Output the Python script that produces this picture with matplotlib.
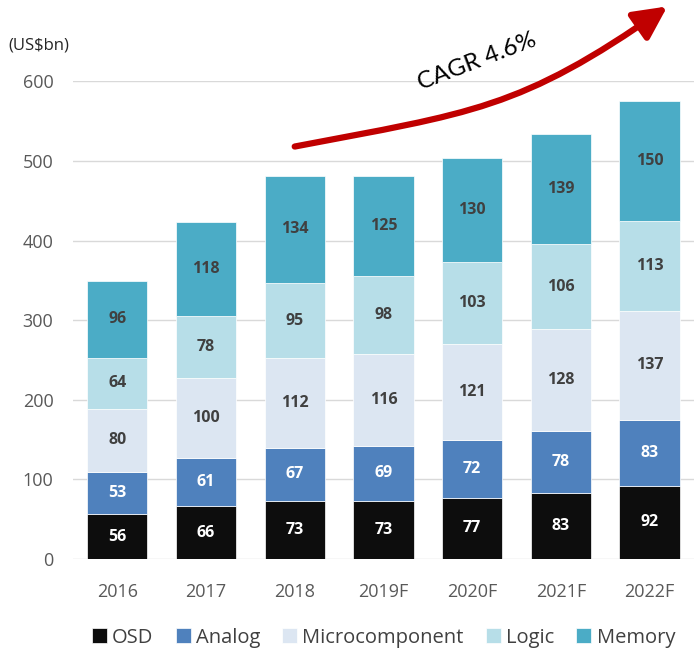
import numpy as np
import matplotlib.pyplot as plt
from matplotlib.patches import FancyArrowPatch
from matplotlib.path import Path

years = ["2016", "2017", "2018", "2019F", "2020F", "2021F", "2022F"]
osd = [56, 66, 73, 73, 77, 83, 92]
analog = [53, 61, 67, 69, 72, 78, 83]
micro = [80, 100, 112, 116, 121, 128, 137]
logic = [64, 78, 95, 98, 103, 106, 113]
memory = [96, 118, 134, 125, 130, 139, 150]

series = [
    ("OSD", osd, "#0d0d0d", "white"),
    ("Analog", analog, "#4f81bd", "white"),
    ("Microcomponent", micro, "#dce6f2", "#404040"),
    ("Logic", logic, "#b7dee8", "#404040"),
    ("Memory", memory, "#4bacc6", "#404040"),
]

plt.rcParams["font.family"] = ["Open Sans", "DejaVu Sans"]

fig = plt.figure(figsize=(6.94, 6.5), dpi=100)
ax = fig.add_axes([0.105, 0.14, 0.895, 0.735])

x = np.arange(len(years))
bottom = np.zeros(len(years))
for name, vals, color, tcolor in series:
    vals = np.array(vals, float)
    ax.bar(x, vals, 0.68, bottom=bottom, color=color, label=name,
           edgecolor="white", linewidth=0.5, zorder=3)
    for xi, b, v in zip(x, bottom, vals):
        ax.text(xi, b + v / 2, f"{int(v)}", ha="center", va="center",
                color=tcolor, fontsize=11.5, fontweight="bold", zorder=4)
    bottom += vals

ax.set_xlim(-0.5, 6.5)
ax.set_ylim(0, 600)
ax.set_yticks(range(0, 601, 100))
ax.set_xticks(x)
ax.set_xticklabels(years)
ax.tick_params(length=0, labelsize=13, labelcolor="#595959")
ax.tick_params(axis="x", pad=17)
ax.tick_params(axis="y", pad=14)
ax.grid(axis="y", color="#d9d9d9", linewidth=1, zorder=0)
for s in ax.spines.values():
    s.set_visible(False)

fig.text(0.012, 0.93, "(US$bn)", fontsize=12, color="#262626", va="center")

# CAGR arrow: cubic curve, flatter at the start, steeper at the end
p0 = ax.transData.transform((2.0, 518))
p3 = ax.transData.transform((6.2, 694))
a0, a1, arm = np.radians(10.8), np.radians(35), 180
p1 = p0 + arm * np.array([np.cos(a0), np.sin(a0)])
p2 = p3 - arm * np.array([np.cos(a1), np.sin(a1)])
verts = ax.transData.inverted().transform([p0, p1, p2, p3])
path = Path(verts, [Path.MOVETO, Path.CURVE4, Path.CURVE4, Path.CURVE4])
arrow = FancyArrowPatch(path=path, arrowstyle="-|>,head_length=2.0,head_width=1.0",
                        mutation_scale=10, color="#c00000", lw=4.5,
                        transform=ax.transData, clip_on=False, zorder=5)
ax.add_patch(arrow)
ax.text(4.05, 625, "CAGR 4.6%", rotation=21, fontsize=17.5, family="Lato",
        ha="center", va="center", color="black")

ax.legend(loc="center", bbox_to_anchor=(0.5, -0.165), ncol=5,
          frameon=False, fontsize=14.5, handlelength=0.75, handleheight=0.75,
          handletextpad=0.25, columnspacing=1.1, labelcolor="#404040")

fig.savefig("out.png", dpi=100)
